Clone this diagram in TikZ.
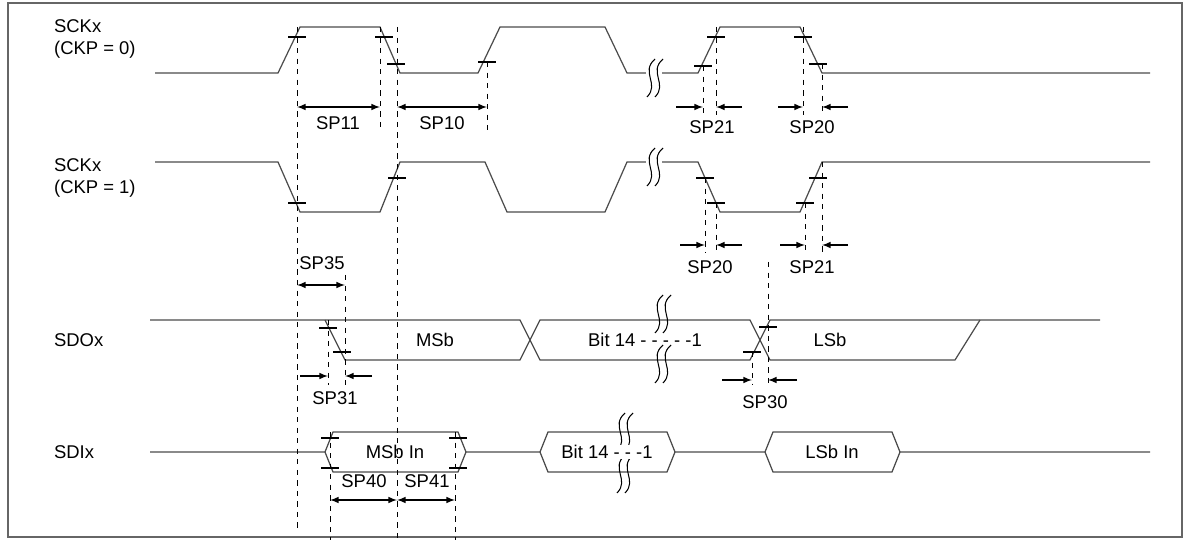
\documentclass[tikz,border=0pt]{standalone}
\usepackage{fontspec}
\setmainfont{Liberation Sans}
\usetikzlibrary{arrows}

\tikzset{
  sig/.style={draw=black!70,line width=0.7pt},
  tk/.style={draw=black,line width=0.6pt},
  guide/.style={draw=black,dashed,dash pattern=on 3pt off 3pt,line width=0.4pt},
  dim/.style={draw=black,line width=0.7pt,-latex},
  dimboth/.style={draw=black,line width=0.7pt,latex-latex},
  lbl/.style={font=\fontsize{10.5}{12.5}\selectfont,inner sep=1pt},
  brk/.pic={
    \draw[black,line width=0.6pt] (3,-19) .. controls (-12,-6) and (8,6) .. (-5,19);
    \draw[black,line width=0.6pt] (11,-19) .. controls (-4,-6) and (16,6) .. (3,19);
  },
  brkgap/.pic={
    \fill[white] (-6,-6) rectangle (10,6);
    \draw[black,line width=0.6pt] (3,-19) .. controls (-12,-6) and (8,6) .. (-5,19);
    \draw[black,line width=0.6pt] (11,-19) .. controls (-4,-6) and (16,6) .. (3,19);
  }
}
\newcommand{\tick}[2]{\draw[tk] (#1-9,#2) -- (#1+9,#2);}

\begin{document}
\begin{tikzpicture}[x=0.02cm,y=-0.02cm]
  \useasboundingbox (0,0) rectangle (1190,540);
  \draw[black!60,line width=0.8pt] (8,3) rectangle (1182,537);

  % signal names
  \node[lbl,anchor=north west,align=left] (sck0) at (52,18) {SCKx\\(CKP = 0)};
  \node[lbl,anchor=north west,align=left] (sck1) at (52,157) {SCKx\\(CKP = 1)};
  \node[lbl,anchor=west] (sdo) at (52,340) {SDOx};
  \node[lbl,anchor=west] (sdi) at (52,452) {SDIx};

  % SCK, CKP = 0
  \draw[sig] (155,73) -- (278,73) -- (300,27) -- (380,27) -- (400,73) -- (478,73)
    -- (500,27) -- (605,27) -- (627,73) -- (698,73) -- (720,27) -- (800,27)
    -- (822,73) -- (1150,73);
  \path (652,78) pic {brkgap};
  \tick{297}{37} \tick{384}{37} \tick{396}{64} \tick{487}{62}
  \tick{703}{66} \tick{716}{37} \tick{803}{37} \tick{818}{64}

  % SCK, CKP = 1
  \draw[sig] (155,162) -- (278,162) -- (300,212) -- (380,212) -- (400,162) -- (485,162)
    -- (507,212) -- (605,212) -- (627,162) -- (698,162) -- (720,212) -- (800,212)
    -- (822,162) -- (1150,162);
  \path (652,167) pic {brkgap};
  \tick{297}{203} \tick{397}{178} \tick{705}{178} \tick{716}{203}
  \tick{805}{203} \tick{818}{178}

  % SDO
  \draw[sig] (150,320) -- (520,320) -- (540,360) -- (750,360) -- (770,320) -- (1100,320);
  \draw[sig] (325,320) -- (345,360) -- (520,360) -- (540,320) -- (750,320) -- (770,360) -- (955,360) -- (980,320);
  \path (660,314) pic {brk};
  \path (660,364) pic {brk};
  \tick{328}{328} \tick{342}{352} \tick{768}{327} \tick{752}{352}
  \node[lbl] (msb) at (435,340) {MSb};
  \node[lbl] (bit14o) at (645,340) {Bit 14 - - - - -1};
  \node[lbl] (lsb) at (830,340) {LSb};

  % SDI
  \draw[sig] (150,452) -- (325,452) -- (333,432) -- (458,432) -- (466,452) -- (540,452)
    -- (548,432) -- (667,432) -- (675,452) -- (765,452) -- (773,432) -- (892,432)
    -- (900,452) -- (1150,452);
  \draw[sig] (325,452) -- (333,472) -- (458,472) -- (466,452);
  \draw[sig] (540,452) -- (548,472) -- (667,472) -- (675,452);
  \draw[sig] (765,452) -- (773,472) -- (892,472) -- (900,452);
  \path (622,432) pic {brk};
  \path (622,474) pic {brk};
  \tick{330}{438} \tick{330}{468} \tick{458}{438} \tick{458}{468}
  \node[lbl] (msbin) at (395,452) {MSb In};
  \node[lbl,fill=white,inner sep=0pt] (bit14i) at (607,452) {Bit 14 - - -1};
  \node[lbl] (lsbin) at (832,452) {LSb In};

  % guide lines
  \draw[guide] (297,27) -- (297,530);
  \draw[guide] (380,27) -- (380,130);
  \draw[guide] (397,27) -- (397,540);
  \draw[guide] (487,62) -- (487,130);
  \draw[guide] (703,66) -- (703,115);
  \draw[guide] (716,27) -- (716,115);
  \draw[guide] (803,27) -- (803,115);
  \draw[guide] (822,64) -- (822,115);
  \draw[guide] (705,178) -- (705,252);
  \draw[guide] (716,203) -- (716,252);
  \draw[guide] (805,203) -- (805,252);
  \draw[guide] (822,162) -- (822,252);
  \draw[guide] (345,275) -- (345,385);
  \draw[guide] (328,320) -- (328,385);
  \draw[guide] (768,262) -- (768,385);
  \draw[guide] (752,352) -- (752,385);
  \draw[guide] (330,432) -- (330,540);
  \draw[guide] (455,432) -- (455,540);

  % timing dimensions
  \coordinate (a11) at (297,107); \coordinate (b11) at (380,107);
  \draw[dimboth] (a11) -- (b11);
  \node[lbl] (sp11) at (338,123) {SP11};
  \coordinate (a10) at (397,107); \coordinate (b10) at (487,107);
  \draw[dimboth] (a10) -- (b10);
  \node[lbl] (sp10) at (442,123) {SP10};

  \coordinate (a21) at (703,107); \coordinate (b21) at (716,107);
  \coordinate (o21) at (676,107); \coordinate (p21) at (742,107);
  \draw[dim] (o21) -- (a21); \draw[dim] (p21) -- (b21);
  \node[lbl] (sp21a) at (712,127) {SP21};
  \coordinate (a20) at (803,107); \coordinate (b20) at (822,107);
  \coordinate (o20) at (778,107); \coordinate (p20) at (848,107);
  \draw[dim] (o20) -- (a20); \draw[dim] (p20) -- (b20);
  \node[lbl] (sp20a) at (812,127) {SP20};

  \coordinate (c20) at (705,245); \coordinate (d20) at (716,245);
  \coordinate (q20) at (680,245); \coordinate (r20) at (742,245);
  \draw[dim] (q20) -- (c20); \draw[dim] (r20) -- (d20);
  \node[lbl] (sp20b) at (710,267) {SP20};
  \coordinate (c21) at (805,245); \coordinate (d21) at (822,245);
  \coordinate (q21) at (780,245); \coordinate (r21) at (848,245);
  \draw[dim] (q21) -- (c21); \draw[dim] (r21) -- (d21);
  \node[lbl] (sp21b) at (812,267) {SP21};

  \coordinate (a35) at (297,285); \coordinate (b35) at (345,285);
  \draw[dimboth] (a35) -- (b35);
  \node[lbl] (sp35) at (322,263) {SP35};

  \coordinate (a31) at (328,376); \coordinate (b31) at (345,376);
  \coordinate (o31) at (300,376); \coordinate (p31) at (372,376);
  \draw[dim] (o31) -- (a31); \draw[dim] (p31) -- (b31);
  \node[lbl] (sp31) at (335,398) {SP31};

  \coordinate (a30) at (752,380); \coordinate (b30) at (768,380);
  \coordinate (o30) at (722,380); \coordinate (p30) at (797,380);
  \draw[dim] (o30) -- (a30); \draw[dim] (p30) -- (b30);
  \node[lbl] (sp30) at (765,402) {SP30};

  \coordinate (a40) at (330,500); \coordinate (b40) at (397,500);
  \draw[dimboth] (a40) -- (b40);
  \node[lbl] (sp40) at (364,481) {SP40};
  \coordinate (a41) at (397,500); \coordinate (b41) at (455,500);
  \draw[dimboth] (a41) -- (b41);
  \node[lbl] (sp41) at (427,481) {SP41};
\end{tikzpicture}
\end{document}
